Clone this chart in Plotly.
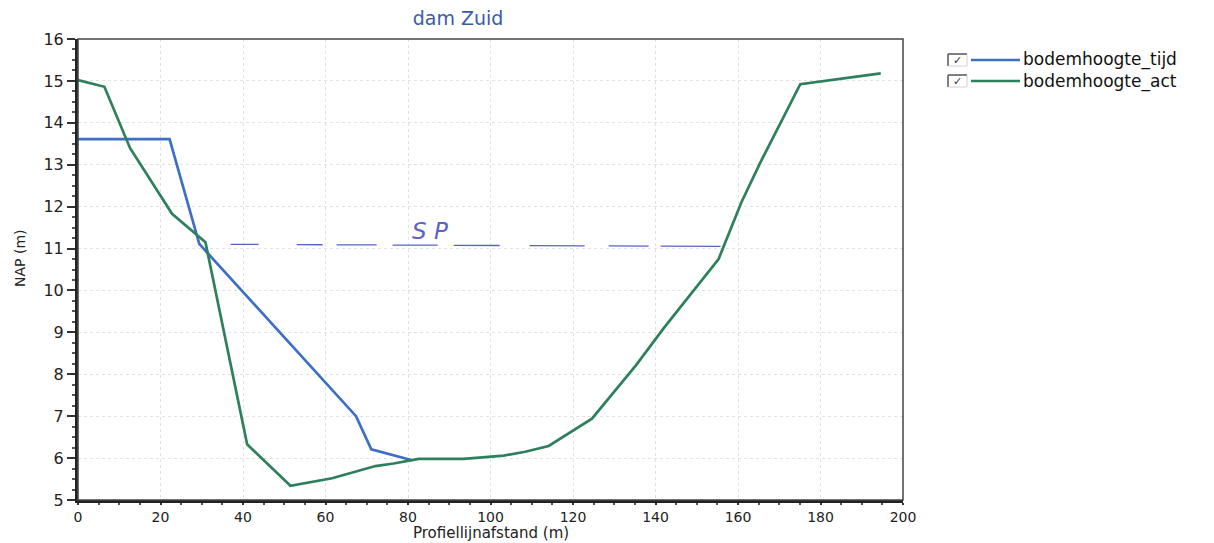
import plotly.graph_objects as go

# Data
tijd_x = [0, 22.2, 29.4, 67.4, 71.1, 81]
tijd_y = [13.61, 13.61, 11.11, 7.0, 6.21, 5.95]

act_x = [0, 6.4, 12.6, 22.8, 30.9, 34.8, 41.0, 51.5, 61.6, 72.1, 76.5, 82.6, 93.5, 103.2, 108.4, 114.1,
         124.6, 135.3, 140.5, 142, 155.3, 160.8, 165.4, 175.1, 194.6]
act_y = [15.02, 14.86, 13.4, 11.83, 11.15, 9.29, 6.33, 5.34, 5.52, 5.81, 5.87, 5.98, 5.98, 6.06, 6.15, 6.29,
         6.94, 8.22, 8.9, 9.1, 10.75, 12.1, 13.05, 14.92, 15.18]

sp_x = [37, 158]
sp_y = [11.1, 11.05]

series_names = ["bodemhoogte_tijd", "bodemhoogte_act"]

BLUE = "#3d6fc6"
GREEN = "#2e7f5c"
PEN = "#5a62c8"
COLORS = [BLUE, GREEN]

# page body has an 8px margin: figure pixel = screen pixel - OFF
OFF = 8
W, H = 1214, 543
# plot area in screen pixels
SL, SR, ST, SB = 78, 903, 39, 500
L, R, T, B = SL - OFF, SR - OFF, ST - OFF, SB - OFF


def px(x):
    """screen x pixel -> paper coordinate"""
    return (x - SL) / (SR - SL)


def py(y):
    """screen y pixel -> paper coordinate"""
    return (SB - y) / (SB - ST)


fig = go.Figure()
fig.add_trace(go.Scatter(x=tijd_x, y=tijd_y, mode="lines", name=series_names[0],
                         line=dict(color=BLUE, width=2.7), showlegend=False))
fig.add_trace(go.Scatter(x=act_x, y=act_y, mode="lines", name=series_names[1],
                         line=dict(color=GREEN, width=2.7), showlegend=False))
fig.add_trace(go.Scatter(x=sp_x, y=sp_y, mode="lines", showlegend=False,
                         line=dict(color=PEN, width=1.3,
                                   dash="28px,38px,26px,14px,40px,16px,45px,16px,46px,30px,55px,24px,40px,12px,60px")))

fig.add_annotation(x=85.3, y=11.41, text="S P", showarrow=False,
                   xanchor="center", yanchor="middle",
                   font=dict(family="DejaVu Sans", size=23, color=PEN, style="italic"))

# plot frame (top/right thinner)
fig.add_shape(type="rect", xref="paper", yref="paper", x0=0, x1=1, y0=0, y1=1,
              line=dict(color="#444", width=1.5), layer="above")

# legend drawn by hand (checkbox, line swatch, label)
for i, (name, col) in enumerate(zip(series_names, COLORS)):
    yc = 60 + 21 * i
    fig.add_shape(type="line", xref="paper", yref="paper",
                  x0=px(948), x1=px(948), y0=py(yc - 6), y1=py(yc + 6),
                  line=dict(color="#555", width=1.5))
    fig.add_shape(type="line", xref="paper", yref="paper",
                  x0=px(948), x1=px(967), y0=py(yc - 6), y1=py(yc - 6),
                  line=dict(color="#555", width=1.5))
    fig.add_shape(type="line", xref="paper", yref="paper",
                  x0=px(967), x1=px(967), y0=py(yc - 6), y1=py(yc + 6),
                  line=dict(color="#d0d0d0", width=1))
    fig.add_shape(type="line", xref="paper", yref="paper",
                  x0=px(948), x1=px(967), y0=py(yc + 6), y1=py(yc + 6),
                  line=dict(color="#d0d0d0", width=1))
    fig.add_annotation(xref="paper", yref="paper", x=px(957.5), y=py(yc + 0.5), text="✓",
                       xanchor="center", yanchor="middle", borderpad=0,
                       showarrow=False, font=dict(family="DejaVu Sans", size=11, color="#333"))
    fig.add_shape(type="line", xref="paper", yref="paper",
                  x0=px(971), x1=px(1020), y0=py(yc), y1=py(yc),
                  line=dict(color=col, width=2.7))
    fig.add_annotation(xref="paper", yref="paper", x=px(1022), y=py(yc), text=name,
                       xanchor="left", yanchor="middle", showarrow=False, borderpad=0,
                       font=dict(family="DejaVu Sans", size=17, color="#111"))

# axis titles
fig.add_annotation(xref="paper", yref="paper", x=0.5, y=py(542.5), text="Profiellijnafstand (m)",
                   xanchor="center", yanchor="bottom", showarrow=False, borderpad=0,
                   font=dict(family="DejaVu Sans", size=15, color="#222"))
fig.add_annotation(xref="paper", yref="paper", x=px(20), y=py(258), text="NAP (m)", textangle=-90,
                   xanchor="center", yanchor="middle", showarrow=False,
                   font=dict(family="DejaVu Sans", size=14, color="#222"))

fig.update_layout(
    width=W, height=H,
    margin=dict(l=L, r=W - R, t=T, b=H - B),
    paper_bgcolor="white", plot_bgcolor="white",
    font=dict(family="DejaVu Sans", color="#222"),
    title=dict(text="dam Zuid", x=(458 - OFF) / W, xanchor="center", y=1 - (18 - OFF) / H,
               yanchor="middle", font=dict(size=19, color="#3a5ca8")),
    showlegend=False,
)

fig.update_xaxes(range=[0, 200], dtick=20, tick0=0,
                 showline=True, linecolor="#222", linewidth=3, mirror=False,
                 ticks="outside", ticklen=2, tickcolor="#333", tickwidth=1.5,
                 minor=dict(dtick=5, ticks="outside", ticklen=2, tickcolor="#555", showgrid=False),
                 showgrid=True, gridcolor="#e2e2e2", griddash="dot", gridwidth=1,
                 tickfont=dict(size=14, color="#222"),
                 zeroline=False)
fig.update_yaxes(range=[5, 16], dtick=1, tick0=5,
                 showline=True, linecolor="#222", linewidth=3, mirror=False,
                 ticks="outside", ticklen=8, tickcolor="#333", tickwidth=1.5,
                 minor=dict(dtick=0.25, ticks="outside", ticklen=3, tickcolor="#555", showgrid=False),
                 showgrid=True, gridcolor="#e2e2e2", griddash="dot", gridwidth=1,
                 tickfont=dict(size=16, color="#222"),
                 zeroline=False)

fig.write_html("out.html")
